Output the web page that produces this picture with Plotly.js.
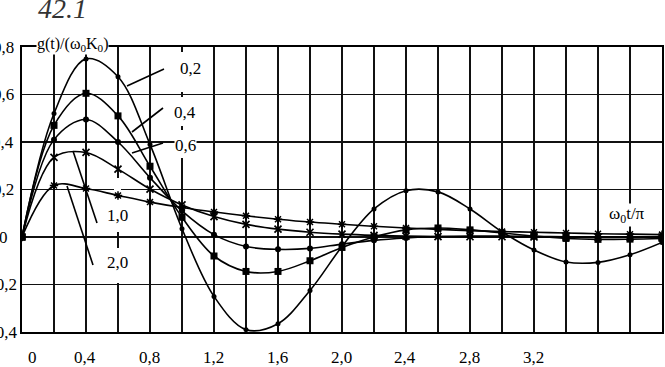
<!DOCTYPE html>
<html>
<head>
<meta charset="utf-8">
<script src="https://cdn.plot.ly/plotly-3.0.1.min.js"></script>
<style>html,body{margin:0;padding:0;background:#fff;}#chart{width:665px;height:367px;}</style>
</head>
<body>
<div id="chart"></div>
<script>
// ---- data ----
const tValues = [0, 0.2, 0.4, 0.6, 0.8, 1.0, 1.2, 1.4, 1.6, 1.8, 2.0, 2.2, 2.4, 2.6, 2.8, 3.0, 3.2, 3.4, 3.6, 3.8, 4.0];
const seriesNames = ["0,2", "0,4", "0,6", "1,0", "2,0"];
const g02 = [0, 0.52, 0.75, 0.675, 0.39, 0.035, -0.25, -0.39, -0.365, -0.225, -0.04, 0.118, 0.195, 0.19, 0.118, 0.022, -0.055, -0.105, -0.107, -0.075, -0.023];
const g04 = [0, 0.47, 0.605, 0.51, 0.298, 0.083, -0.08, -0.145, -0.145, -0.10, -0.044, 0.0, 0.03, 0.038, 0.03, 0.017, 0.004, -0.006, -0.01, -0.009, -0.006];
const g06 = [0, 0.41, 0.495, 0.40, 0.25, 0.11, 0.01, -0.04, -0.052, -0.048, -0.03, -0.014, -0.004, 0.002, 0.004, 0.004, 0.002, 0.001, 0.0, 0.0, 0.0];
const g10 = [0, 0.335, 0.356, 0.286, 0.202, 0.135, 0.086, 0.053, 0.033, 0.02, 0.012, 0.007, 0.004, 0.002, 0.001, 0.001, 0.0, 0.0, 0.0, 0.0, 0.0];
const g20 = [0, 0.217, 0.204, 0.175, 0.147, 0.124, 0.105, 0.089, 0.075, 0.063, 0.054, 0.045, 0.038, 0.032, 0.027, 0.023, 0.02, 0.017, 0.014, 0.012, 0.01];
const xTickVals = [0, 0.4, 0.8, 1.2, 1.6, 2.0, 2.4, 2.8, 3.2];
const xTickText = ["0", "0,4", "0,8", "1,2", "1,6", "2,0", "2,4", "2,8", "3,2"];
const yTickVals = [0.8, 0.6, 0.4, 0.2, 0, -0.2, -0.4];
const yTickText = ["0,8", "0,6", "0,4", "0,2", "0", "-0,2", "-0,4"];

// ---- geometry helpers (pixel -> paper / data) ----
const L = 22, R = 662, T = 47, B = 332;
const px = x => (x - L) / (R - L);
const py = y => (B - y) / (B - T);
const dx = x => (x - L) / (R - L) * 4.0;
const dy = y => 0.8 - (y - T) / (B - T) * 1.2;

const FONT = "Liberation Serif, Times New Roman, serif";
const allSeries = [g02, g04, g06, g10, g20];
const markerStyles = [
  {symbol: "circle", size: 5, color: "#000"},
  {symbol: "square", size: 7, color: "#000"},
  {symbol: "circle", size: 6, color: "#000"},
  {symbol: "x-thin-open", size: 7, color: "#000", line: {width: 1.7, color: "#000"}},
  {symbol: "asterisk-open", size: 7, color: "#000", line: {width: 1.5, color: "#000"}}
];
const traces = allSeries.map((ys, i) => ({
  type: "scatter", mode: "lines+markers", name: seriesNames[i],
  x: tValues, y: ys,
  line: {color: "#000", width: 1.6, shape: "spline", smoothing: 1},
  marker: markerStyles[i],
  showlegend: false, hoverinfo: "skip"
}));
// origin dot
traces.push({type: "scatter", mode: "markers", x: [tValues[0]], y: [g02[0]],
  marker: {symbol: "circle", size: 8, color: "#000"}, showlegend: false, hoverinfo: "skip"});

const annotations = [];
xTickText.forEach((t, i) => annotations.push({
  x: xTickVals[i], xref: "x", y: py(357), yref: "paper", text: t, showarrow: false,
  xanchor: "center", yanchor: "middle",
  xshift: i === 0 ? 10 : -1, font: {family: FONT, size: 17, color: "#000"}
}));
yTickText.forEach((t, i) => annotations.push({
  x: px(3), xref: "paper", y: yTickVals[i], yref: "y", text: t, showarrow: false,
  xanchor: "center", yanchor: "middle", font: {family: FONT, size: 17, color: "#000"}
}));
const lab = (text, x, y, size, extra) => Object.assign({
  x: px(x), xref: "paper", y: py(y), yref: "paper", text: text, showarrow: false,
  xanchor: "center", yanchor: "middle",
  font: {family: FONT, size: size, color: "#000"}, bgcolor: "#fff", borderpad: 0
}, extra || {});
annotations.push(lab("g(t)/(ω<sub>0</sub>K<sub>0</sub>)", 72, 45, 16));
annotations.push(lab("ω<sub>0</sub>t/π", 627, 215, 17));
annotations.push(lab("0,2", 190, 68, 17));
annotations.push(lab("0,4", 185, 112, 17));
annotations.push(lab("0,6", 185, 145, 17));
annotations.push(lab("1,0", 117, 215, 17));
annotations.push(lab("2,0", 117, 262, 17));
annotations.push(lab("42.1", 62, 8, 28, {bgcolor: "rgba(0,0,0,0)", font: {family: FONT, size: 28, color: "#333", style: "italic"}}));

const seg = (x0, y0, x1, y1) => ({type: "line", xref: "x", yref: "y",
  x0: dx(x0), y0: dy(y0), x1: dx(x1), y1: dy(y1), line: {color: "#000", width: 1.6}});
const erase = (x0, y0, x1, y1) => ({type: "rect", layer: "between", xref: "x", yref: "y",
  x0: dx(x0), y0: dy(y0), x1: dx(x1), y1: dy(y1), line: {width: 0}, fillcolor: "#fff"});
const shapes = [
  erase(178, 52, 185, 92),
  erase(178, 97, 185, 126),
  erase(178, 130, 185, 158),
  erase(114, 178, 121, 232),
  erase(114, 248, 121, 283),
  seg(164, 69, 127, 86),
  seg(163, 108, 132, 132),
  seg(163, 143, 132, 153),
  seg(97, 223, 73, 151),
  seg(67, 186, 93, 265)
];

const gridStyle = {gridcolor: "#111", gridwidth: 1.8};
const layout = {
  width: 665, height: 367,
  margin: {l: L, r: 665 - R, t: T, b: 367 - B, pad: 0},
  paper_bgcolor: "#fff", plot_bgcolor: "#fff",
  xaxis: Object.assign({range: [0, 4.0], tickvals: xTickVals, showticklabels: false, ticks: "",
    showgrid: true, zeroline: false, showline: true, mirror: true, linecolor: "#000", linewidth: 2,
    minor: {dtick: 0.2, showgrid: true, gridcolor: "#111", gridwidth: 1.8, ticks: ""},
    automargin: false, fixedrange: true}, gridStyle),
  yaxis: Object.assign({range: [-0.4, 0.8], dtick: 0.2, tick0: 0, showticklabels: false, ticks: "",
    showgrid: true, zeroline: false, showline: true, mirror: true, linecolor: "#000", linewidth: 2,
    automargin: false, fixedrange: true}, gridStyle),
  annotations: annotations,
  shapes: shapes,
  showlegend: false
};
Plotly.newPlot("chart", traces, layout, {staticPlot: true, displayModeBar: false});
</script>
</body>
</html>
